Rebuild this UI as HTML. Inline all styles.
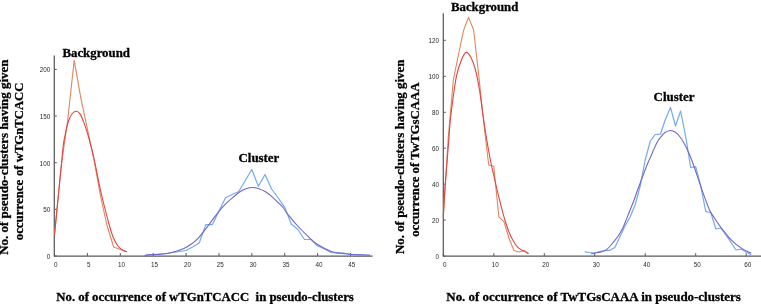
<!DOCTYPE html>
<html><head><meta charset="utf-8"><style>
html,body{margin:0;padding:0;background:#fff;}
body{width:761px;height:304px;overflow:hidden;}
svg{display:block;will-change:transform;}
.b{font-family:"Liberation Serif",serif;font-weight:bold;font-size:12.7px;fill:#000;stroke:#000;stroke-width:0.3px;}
.tk{font-family:"Liberation Sans",sans-serif;font-size:6.3px;fill:#2a2a2a;}
</style></head><body>
<svg width="761" height="304" viewBox="0 0 761 304">
<path d="M54.3,55.4 V256 H372.6" fill="none" stroke="#5a5a5a" stroke-width="1.25"/>
<line x1="54.5" y1="253" x2="54.5" y2="256" stroke="#5a5a5a" stroke-width="1"/>
<text x="55.8" y="267.0" text-anchor="middle" class="tk">0</text>
<line x1="87.4" y1="253" x2="87.4" y2="256" stroke="#5a5a5a" stroke-width="1"/>
<text x="88.7" y="267.0" text-anchor="middle" class="tk">5</text>
<line x1="120.3" y1="253" x2="120.3" y2="256" stroke="#5a5a5a" stroke-width="1"/>
<text x="121.6" y="267.0" text-anchor="middle" class="tk">10</text>
<line x1="153.2" y1="253" x2="153.2" y2="256" stroke="#5a5a5a" stroke-width="1"/>
<text x="154.5" y="267.0" text-anchor="middle" class="tk">15</text>
<line x1="186.1" y1="253" x2="186.1" y2="256" stroke="#5a5a5a" stroke-width="1"/>
<text x="187.4" y="267.0" text-anchor="middle" class="tk">20</text>
<line x1="219.0" y1="253" x2="219.0" y2="256" stroke="#5a5a5a" stroke-width="1"/>
<text x="220.3" y="267.0" text-anchor="middle" class="tk">25</text>
<line x1="251.8" y1="253" x2="251.8" y2="256" stroke="#5a5a5a" stroke-width="1"/>
<text x="253.1" y="267.0" text-anchor="middle" class="tk">30</text>
<line x1="284.7" y1="253" x2="284.7" y2="256" stroke="#5a5a5a" stroke-width="1"/>
<text x="286.0" y="267.0" text-anchor="middle" class="tk">35</text>
<line x1="317.6" y1="253" x2="317.6" y2="256" stroke="#5a5a5a" stroke-width="1"/>
<text x="318.9" y="267.0" text-anchor="middle" class="tk">40</text>
<line x1="350.5" y1="253" x2="350.5" y2="256" stroke="#5a5a5a" stroke-width="1"/>
<text x="351.8" y="267.0" text-anchor="middle" class="tk">45</text>
<line x1="54.3" y1="256.0" x2="56.8" y2="256.0" stroke="#5a5a5a" stroke-width="1"/>
<text x="50.2" y="258.9" text-anchor="end" class="tk">0</text>
<line x1="54.3" y1="209.3" x2="56.8" y2="209.3" stroke="#5a5a5a" stroke-width="1"/>
<text x="50.2" y="212.2" text-anchor="end" class="tk">50</text>
<line x1="54.3" y1="162.7" x2="56.8" y2="162.7" stroke="#5a5a5a" stroke-width="1"/>
<text x="50.2" y="165.6" text-anchor="end" class="tk">100</text>
<line x1="54.3" y1="116.0" x2="56.8" y2="116.0" stroke="#5a5a5a" stroke-width="1"/>
<text x="50.2" y="118.9" text-anchor="end" class="tk">150</text>
<line x1="54.3" y1="69.4" x2="56.8" y2="69.4" stroke="#5a5a5a" stroke-width="1"/>
<text x="50.2" y="72.3" text-anchor="end" class="tk">200</text>
<path d="M443.3,13.2 V256.1 H761" fill="none" stroke="#5a5a5a" stroke-width="1.25"/>
<line x1="443.3" y1="253.10000000000002" x2="443.3" y2="256.1" stroke="#5a5a5a" stroke-width="1"/>
<text x="444.8" y="267.3" text-anchor="middle" class="tk">0</text>
<line x1="493.8" y1="253.10000000000002" x2="493.8" y2="256.1" stroke="#5a5a5a" stroke-width="1"/>
<text x="495.3" y="267.3" text-anchor="middle" class="tk">10</text>
<line x1="544.3" y1="253.10000000000002" x2="544.3" y2="256.1" stroke="#5a5a5a" stroke-width="1"/>
<text x="545.8" y="267.3" text-anchor="middle" class="tk">20</text>
<line x1="594.7" y1="253.10000000000002" x2="594.7" y2="256.1" stroke="#5a5a5a" stroke-width="1"/>
<text x="596.2" y="267.3" text-anchor="middle" class="tk">30</text>
<line x1="645.2" y1="253.10000000000002" x2="645.2" y2="256.1" stroke="#5a5a5a" stroke-width="1"/>
<text x="646.7" y="267.3" text-anchor="middle" class="tk">40</text>
<line x1="695.7" y1="253.10000000000002" x2="695.7" y2="256.1" stroke="#5a5a5a" stroke-width="1"/>
<text x="697.2" y="267.3" text-anchor="middle" class="tk">50</text>
<line x1="746.2" y1="253.10000000000002" x2="746.2" y2="256.1" stroke="#5a5a5a" stroke-width="1"/>
<text x="747.7" y="267.3" text-anchor="middle" class="tk">60</text>
<line x1="443.3" y1="256.1" x2="445.8" y2="256.1" stroke="#5a5a5a" stroke-width="1"/>
<text x="438.9" y="259.0" text-anchor="end" class="tk">0</text>
<line x1="443.3" y1="220.1" x2="445.8" y2="220.1" stroke="#5a5a5a" stroke-width="1"/>
<text x="438.9" y="223.0" text-anchor="end" class="tk">20</text>
<line x1="443.3" y1="184.2" x2="445.8" y2="184.2" stroke="#5a5a5a" stroke-width="1"/>
<text x="438.9" y="187.1" text-anchor="end" class="tk">40</text>
<line x1="443.3" y1="148.2" x2="445.8" y2="148.2" stroke="#5a5a5a" stroke-width="1"/>
<text x="438.9" y="151.1" text-anchor="end" class="tk">60</text>
<line x1="443.3" y1="112.3" x2="445.8" y2="112.3" stroke="#5a5a5a" stroke-width="1"/>
<text x="438.9" y="115.2" text-anchor="end" class="tk">80</text>
<line x1="443.3" y1="76.3" x2="445.8" y2="76.3" stroke="#5a5a5a" stroke-width="1"/>
<text x="438.9" y="79.2" text-anchor="end" class="tk">100</text>
<line x1="443.3" y1="40.3" x2="445.8" y2="40.3" stroke="#5a5a5a" stroke-width="1"/>
<text x="438.9" y="43.2" text-anchor="end" class="tk">120</text>
<polyline points="54.5,235.0 61.1,167.0 67.7,120.0 74.2,60.4 80.8,97.8 87.4,128.8 94.0,160.0 100.5,196.0 107.1,226.0 113.7,247.0 120.3,249.5 126.9,251.7" fill="none" stroke="#e0865e" stroke-width="1.1" stroke-linejoin="round"/>
<path d="M54.5,235.0 C54.8,232.4 55.4,225.5 56.0,219.5 C56.6,213.5 57.1,207.6 58.0,199.0 C58.9,190.4 60.2,176.8 61.1,168.0 C62.0,159.2 62.5,151.8 63.2,146.0 C63.9,140.2 64.8,136.6 65.5,133.0 C66.2,129.4 66.8,126.9 67.5,124.5 C68.2,122.1 68.8,120.2 69.5,118.5 C70.2,116.8 71.0,115.2 72.0,114.0 C73.0,112.8 74.5,111.4 75.8,111.3 C77.1,111.2 78.6,111.7 79.9,113.6 C81.2,115.5 82.7,119.5 83.9,122.6 C85.1,125.7 86.1,128.7 87.2,132.3 C88.3,135.9 89.3,139.9 90.4,144.2 C91.5,148.5 92.2,150.0 93.9,158.0 C95.7,166.0 98.4,181.0 100.9,192.0 C103.4,203.0 106.9,216.3 109.0,224.0 C111.1,231.7 111.9,234.2 113.5,238.0 C115.1,241.8 116.9,244.5 118.4,246.5 C119.9,248.5 121.1,249.1 122.5,250.0 C123.9,250.9 126.2,251.4 127.0,251.7" fill="none" stroke="#e24444" stroke-width="1.1" stroke-linejoin="round"/>
<polyline points="146.6,255.0 153.2,254.5 159.7,254.5 166.3,253.5 172.9,252.5 179.5,251.5 186.1,250.5 192.6,247.0 199.2,243.0 205.8,224.6 212.4,224.6 219.0,211.0 225.5,197.8 232.1,194.5 238.7,191.5 245.3,180.5 251.8,169.5 258.4,186.3 265.0,174.5 271.6,189.0 278.2,198.0 284.7,207.3 291.3,224.0 297.9,229.5 304.5,239.5 311.0,239.5 317.6,246.0 324.2,248.7 330.8,252.5 337.4,252.8 343.9,253.2 350.5,254.5 357.1,254.6 363.7,255.0 370.2,255.3" fill="none" stroke="#72aaf0" stroke-width="1.2" stroke-linejoin="round"/>
<path d="M144.6,255.2 C147.2,255.0 155.6,254.5 160.0,254.1 C164.4,253.7 166.8,253.6 170.8,252.7 C174.8,251.8 180.3,250.0 183.9,248.4 C187.5,246.8 190.0,245.0 192.5,243.2 C195.0,241.3 196.2,240.4 199.0,237.3 C201.8,234.2 205.9,228.7 209.0,224.6 C212.1,220.5 215.2,216.1 217.8,212.8 C220.4,209.5 222.3,207.3 224.7,204.9 C227.1,202.5 229.4,200.4 232.0,198.2 C234.6,196.0 237.7,193.4 240.0,191.8 C242.3,190.2 243.9,189.4 246.0,188.7 C248.1,188.0 250.4,187.5 252.7,187.5 C255.0,187.5 257.5,188.2 259.6,188.9 C261.8,189.6 263.6,190.6 265.6,191.8 C267.6,193.0 269.6,194.7 271.5,196.3 C273.4,197.9 275.0,199.4 276.9,201.3 C278.8,203.2 281.1,205.3 283.0,207.5 C284.9,209.7 285.6,211.5 288.0,214.5 C290.4,217.5 293.7,221.7 297.2,225.5 C300.7,229.3 305.6,234.1 309.0,237.3 C312.4,240.5 313.9,242.2 317.6,244.5 C321.3,246.8 326.8,249.8 331.4,251.4 C336.0,253.0 340.4,253.2 345.2,253.8 C350.0,254.4 355.9,254.6 360.0,254.8 C364.1,255.0 368.3,255.1 370.0,255.2" fill="none" stroke="#7266c8" stroke-width="1.1" stroke-linejoin="round"/>
<polyline points="443.3,217.0 448.3,137.0 453.4,79.5 458.4,55.0 463.5,30.6 468.5,17.4 473.6,29.7 478.6,74.0 483.7,122.0 488.7,165.0 493.8,166.2 498.8,216.8 503.9,221.7 508.9,238.0 514.0,250.5 519.0,252.0 524.1,250.5 529.1,253.6" fill="none" stroke="#e0865e" stroke-width="1.1" stroke-linejoin="round"/>
<path d="M443.3,217.0 C443.5,213.8 443.9,204.2 444.3,198.0 C444.7,191.8 445.1,186.3 445.6,180.0 C446.1,173.7 446.7,166.7 447.2,160.0 C447.7,153.3 448.3,146.7 448.8,140.0 C449.3,133.3 449.7,126.0 450.3,120.0 C450.9,114.0 451.3,111.3 452.3,104.0 C453.3,96.7 454.9,83.7 456.4,76.4 C457.9,69.1 459.8,64.0 461.4,60.0 C463.0,56.0 464.7,52.7 466.3,52.4 C467.9,52.1 469.7,55.1 471.2,58.0 C472.7,60.9 474.1,64.7 475.5,70.0 C476.9,75.3 478.3,83.0 479.5,90.0 C480.7,97.0 481.4,104.5 482.5,112.0 C483.6,119.5 484.8,127.3 486.0,135.0 C487.2,142.7 488.5,150.3 490.0,158.0 C491.5,165.7 493.2,173.2 495.0,181.0 C496.8,188.8 499.1,198.2 500.8,205.0 C502.6,211.8 504.0,217.1 505.5,222.0 C507.0,226.9 508.4,230.8 510.0,234.5 C511.6,238.2 513.7,241.7 515.2,244.0 C516.7,246.3 517.5,247.2 519.0,248.4 C520.5,249.6 522.4,250.2 523.9,251.1 C525.4,252.0 527.6,253.4 528.3,253.8" fill="none" stroke="#e24444" stroke-width="1.1" stroke-linejoin="round"/>
<polyline points="584.6,251.8 589.7,252.5 594.7,253.0 599.8,251.5 604.8,250.3 609.9,250.3 614.9,247.5 620.0,236.5 625.0,226.0 630.1,217.0 635.1,205.0 640.2,186.0 645.2,160.0 650.3,141.0 655.3,134.5 660.4,134.2 665.4,119.5 670.5,107.4 675.5,126.0 680.6,111.0 685.6,136.0 690.7,167.5 695.7,166.7 700.7,186.0 705.8,211.7 710.8,212.5 715.9,229.0 720.9,228.0 726.0,235.0 731.0,242.5 736.1,250.0 741.1,249.0 746.2,252.0 751.2,254.6" fill="none" stroke="#72aaf0" stroke-width="1.2" stroke-linejoin="round"/>
<path d="M590.9,253.8 C592.1,253.6 595.5,253.1 598.0,252.5 C600.5,251.9 603.2,252.1 605.7,250.4 C608.2,248.7 611.1,244.9 613.2,242.4 C615.3,239.9 616.9,237.9 618.5,235.5 C620.1,233.1 621.3,231.0 622.7,228.2 C624.1,225.4 625.4,221.8 626.7,218.6 C628.0,215.4 629.3,212.1 630.5,209.0 C631.7,205.9 632.8,203.6 634.1,200.0 C635.4,196.4 637.0,191.5 638.5,187.5 C640.0,183.5 641.4,179.6 642.8,176.0 C644.1,172.4 645.4,169.1 646.6,166.0 C647.9,162.9 649.1,160.2 650.3,157.5 C651.5,154.8 652.5,152.2 653.8,149.5 C655.0,146.8 656.6,143.1 657.8,141.0 C659.0,138.9 659.9,138.2 661.0,136.8 C662.1,135.4 663.2,133.9 664.7,132.8 C666.2,131.8 668.3,130.6 670.1,130.5 C671.9,130.4 673.7,131.2 675.4,132.3 C677.1,133.4 678.5,134.9 680.1,137.0 C681.7,139.1 683.3,141.7 684.9,144.7 C686.5,147.7 688.0,151.1 689.6,154.8 C691.2,158.6 692.3,161.4 694.3,167.2 C696.3,173.0 699.3,182.4 701.8,189.4 C704.3,196.4 707.2,204.5 709.2,209.2 C711.2,213.9 712.1,214.3 714.1,217.5 C716.1,220.7 718.4,224.2 721.4,228.1 C724.4,232.0 728.7,237.5 732.1,240.9 C735.5,244.3 738.5,246.4 741.7,248.4 C744.9,250.4 749.7,252.3 751.3,253.1" fill="none" stroke="#7266c8" stroke-width="1.1" stroke-linejoin="round"/>
<text x="62.4" y="56.9" class="b" style="font-size:12.85px">Background</text>
<text x="238.5" y="161.5" class="b" style="font-size:12.9px">Cluster</text>
<text x="451.0" y="10.8" class="b" style="font-size:12.8px">Background</text>
<text x="653.6" y="100.7" class="b" style="font-size:12.9px">Cluster</text>
<text transform="translate(7.6,254.8) rotate(-90)" class="b" textLength="195.2" lengthAdjust="spacingAndGlyphs">No. of pseudo-clusters having given</text>
<text transform="translate(23.4,240.3) rotate(-90)" class="b" style="font-size:12.9px">occurrence</text>
<text transform="translate(23.4,176.0) rotate(-90)" class="b" style="font-size:12.9px" textLength="93.4" lengthAdjust="spacingAndGlyphs">of wTGnTCACC</text>
<text transform="translate(404.2,254.0) rotate(-90)" class="b" textLength="194.3" lengthAdjust="spacingAndGlyphs">No. of pseudo-clusters having given</text>
<text transform="translate(418.9,236.8) rotate(-90)" class="b" textLength="154.2" lengthAdjust="spacingAndGlyphs">occurrence of TwTGsCAAA</text>
<text x="56.3" y="300.7" class="b" textLength="297.5" lengthAdjust="spacingAndGlyphs" style="white-space:pre">No. of occurrence of wTGnTCACC  in pseudo-clusters</text>
<text x="446.3" y="300.8" class="b" textLength="294.5" lengthAdjust="spacingAndGlyphs">No. of occurrence of TwTGsCAAA in pseudo-clusters</text>
</svg>
</body></html>
